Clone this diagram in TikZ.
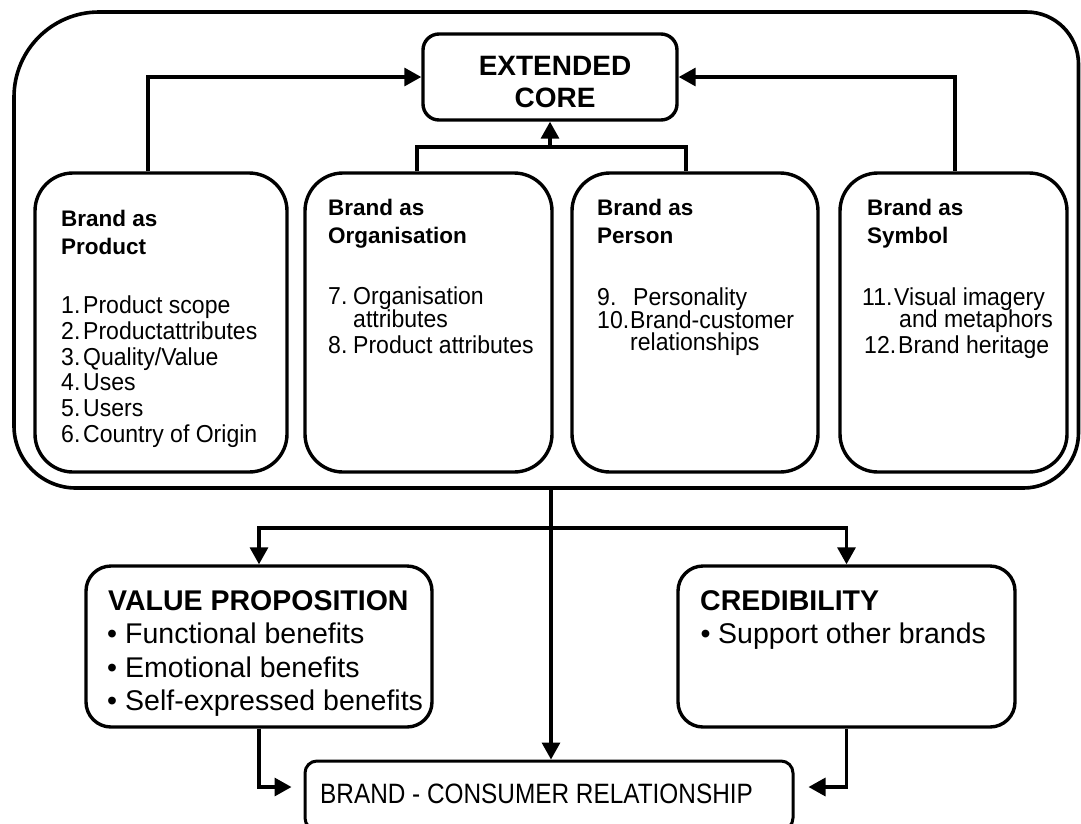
\documentclass[tikz,border=0pt]{standalone}
\usepackage{fontspec}
\setmainfont{Liberation Sans}
\newfontfamily\itemfont[FakeStretch=0.94]{Liberation Sans}
\newfontfamily\narrowfont[FakeStretch=0.87]{Liberation Sans}
\usetikzlibrary{arrows.meta}

\begin{document}
\begin{tikzpicture}[x=1pt,y=-1pt,
  brandbox/.style={draw, line width=3.4pt, rounded corners=38pt, inner sep=0pt, minimum height=299pt},
  roundbox/.style={draw, line width=3.4pt, inner sep=0pt},
  headtxt/.style={anchor=base west, inner sep=0pt, font=\bfseries\fontsize{22.5}{24}\selectfont},
  itemtxt/.style={anchor=base west, inner sep=0pt, font=\itemfont\fontsize{24.5}{26}\selectfont},
  bigbold/.style={anchor=base west, inner sep=0pt, font=\bfseries\fontsize{28.5}{30}\selectfont},
  bigtxt/.style={anchor=base west, inner sep=0pt, font=\fontsize{28.5}{30}\selectfont},
  bullettxt/.style={anchor=base, inner sep=0pt, font=\fontsize{28.5}{30}\selectfont},
  link/.style={line width=3.3pt},
  arr/.style={link, -{Triangle[length=17pt,width=18pt]}}]

\useasboundingbox (0,0) rectangle (1081,823);
\fill[white] (0,0) rectangle (1081,823);

% outer frame round the four brand views
\draw[line width=3.6pt]
  (14,97) .. controls (14,50.1) and (52.1,12) .. (99,12)
  -- (1026.5,12) .. controls (1055.2,12) and (1078.5,35.3) .. (1078.5,64)
  -- (1078.5,433) .. controls (1078.5,463.4) and (1053.9,488) .. (1023.5,488)
  -- (76,488) .. controls (41.8,488) and (14,460.2) .. (14,426) -- cycle;

% core
\node[roundbox, rounded corners=16pt, minimum width=254pt, minimum height=86pt] (ext) at (550,77) {};
\node[anchor=base, inner sep=0pt, font=\bfseries\fontsize{28}{30}\selectfont] (ext1) at (555,75) {EXTENDED};
\node[anchor=base, inner sep=0pt, font=\bfseries\fontsize{28}{30}\selectfont] (ext2) at (555,107) {CORE};

% four brand views
\node[brandbox, minimum width=252pt] (prod) at (161,322.5) {};
\node[brandbox, minimum width=247pt] (org) at (428.5,322.5) {};
\node[brandbox, minimum width=246pt] (per) at (695,322.5) {};
\node[brandbox, minimum width=227pt] (sym) at (953.5,322.5) {};

% brand as product
\node[headtxt] (ph1) at (61,226) {Brand as};
\node[headtxt] (ph2) at (61,254) {Product};
\node[itemtxt] (pn1) at (61,313) {1.};   \node[itemtxt] (pi1) at (83,313) {Product scope};
\node[itemtxt] (pn2) at (61,339.5) {2.}; \node[itemtxt] (pi2) at (83,339.5) {Productattributes};
\node[itemtxt] (pn3) at (61,365) {3.};   \node[itemtxt] (pi3) at (83,365) {Quality/Value};
\node[itemtxt] (pn4) at (61,390.5) {4.}; \node[itemtxt] (pi4) at (83,390.5) {Uses};
\node[itemtxt] (pn5) at (61,416.5) {5.}; \node[itemtxt] (pi5) at (83,416.5) {Users};
\node[itemtxt] (pn6) at (61,442) {6.};   \node[itemtxt] (pi6) at (83,442) {Country of Origin};

% brand as organisation
\node[headtxt] (oh1) at (328,215) {Brand as};
\node[headtxt] (oh2) at (328,243) {Organisation};
\node[itemtxt] (on7) at (328,304) {7.}; \node[itemtxt] (oi7) at (353,304) {Organisation};
\node[itemtxt] (oi7b) at (353,327) {attributes};
\node[itemtxt] (on8) at (328,353) {8.}; \node[itemtxt] (oi8) at (353,353) {Product attributes};

% brand as person
\node[headtxt] (eh1) at (597,215) {Brand as};
\node[headtxt] (eh2) at (597,243) {Person};
\node[itemtxt] (en9) at (597,305) {9.};   \node[itemtxt] (ei9) at (633,305) {Personality};
\node[itemtxt] (en10) at (597,328) {10.}; \node[itemtxt] (ei10) at (630,328) {Brand-customer};
\node[itemtxt] (ei10b) at (630,350.5) {relationships};

% brand as symbol
\node[headtxt] (sh1) at (867,215) {Brand as};
\node[headtxt] (sh2) at (867,243) {Symbol};
\node[itemtxt] (sn11) at (862,305) {11.}; \node[itemtxt] (si11) at (894,305) {Visual imagery};
\node[itemtxt] (si11b) at (899,327) {and metaphors};
\node[itemtxt] (sn12) at (864,353) {12.}; \node[itemtxt] (si12) at (898,353) {Brand heritage};

% links from the views into the core
\coordinate (xa) at (148,0);
\coordinate (xb) at (417,0);
\coordinate (xc) at (686,0);
\coordinate (xd) at (955,0);
\coordinate (midbar) at (550,147);
\draw[arr] (prod.north -| xa) |- (ext.west);
\draw[arr] (sym.north -| xd) |- (ext.east);
\draw[link] (org.north -| xb) |- (midbar) -| (per.north -| xc);
\draw[arr] (midbar) -- (ext.south);

% value proposition and credibility
\node[roundbox, rounded corners=25pt, minimum width=346pt, minimum height=161pt] (vp) at (259,646.5) {};
\node[bigbold] (vph) at (108,610) {VALUE PROPOSITION};
\node[bullettxt] (vpb1) at (112,643) {•}; \node[bigtxt] (vpt1) at (125,643) {Functional benefits};
\node[bullettxt] (vpb2) at (112,677) {•}; \node[bigtxt] (vpt2) at (125,677) {Emotional benefits};
\node[bullettxt] (vpb3) at (112,710) {•}; \node[bigtxt] (vpt3) at (125,710) {Self-expressed benefits};

\node[roundbox, rounded corners=25pt, minimum width=337pt, minimum height=161pt] (cred) at (846.5,646.5) {};
\node[bigbold] (crh) at (700,610) {CREDIBILITY};
\node[bullettxt] (crb1) at (705.5,643) {•}; \node[bigtxt] (crt1) at (718,643) {Support other brands};

% brand - consumer relationship
\node[draw, line width=3pt, rounded corners=12pt, inner sep=0pt, minimum width=488pt, minimum height=69pt] (bcr) at (549,795.5) {};
\node[anchor=base west, inner sep=0pt, font=\narrowfont\fontsize{28}{30}\selectfont] (bcrt) at (320,803) {BRAND - CONSUMER RELATIONSHIP};

% lower connectors
\coordinate (obot) at (551,488);
\coordinate (split) at (551,528);
\coordinate (yl) at (0,787);
\draw[arr] (obot) -- (bcr.north -| obot);
\draw[arr] (split) -| (vp.north);
\draw[arr] (split) -| (cred.north);
\draw[arr, shorten >=12pt] (vp.south) |- (bcr.west |- yl);
\draw[arr, shorten >=14pt] (cred.south) |- (bcr.east |- yl);
\end{tikzpicture}
\end{document}
